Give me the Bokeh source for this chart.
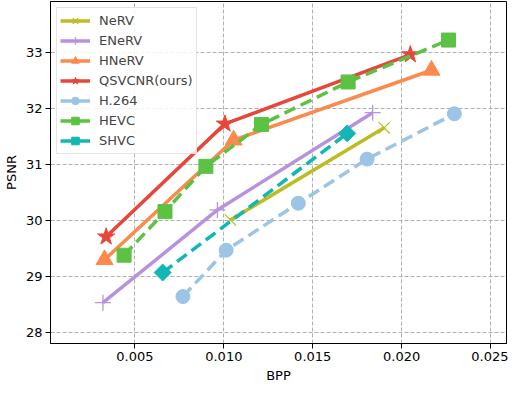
import numpy as np
from bokeh.plotting import figure
from bokeh.models import FixedTicker, NumeralTickFormatter, Range1d
from bokeh.embed import file_html
from bokeh.resources import INLINE

series_names = ["NeRV", "ENeRV", "HNeRV", "QSVCNR(ours)", "H.264", "HEVC", "SHVC"]

nerv_bpp = [0.01037, 0.01902]
nerv_psnr = [30.01, 31.66]

enerv_bpp = [0.00320, 0.00964, 0.01837]
enerv_psnr = [28.53, 30.19, 31.93]

hnerv_bpp = [0.00329, 0.01055, 0.02168]
hnerv_psnr = [29.30, 31.44, 32.69]

qsvcnr_bpp = [0.00338, 0.01006, 0.02049]
qsvcnr_psnr = [29.71, 31.73, 32.97]

h264_bpp = [0.00770, 0.01013, 0.01419, 0.01806, 0.02297]
h264_psnr = [28.64, 29.47, 30.31, 31.10, 31.91]

hevc_bpp = [0.00439, 0.00669, 0.00899, 0.01212, 0.01699, 0.02264]
hevc_psnr = [29.38, 30.16, 30.97, 31.72, 32.48, 33.23]

shvc_bpp = [0.00656, 0.01694]
shvc_psnr = [29.07, 31.56]

x_ticks = [0.005, 0.010, 0.015, 0.020, 0.025]
y_ticks = [28, 29, 30, 31, 32, 33]

p = figure(frame_width=456, frame_height=342, output_backend="svg", toolbar_location=None,
           x_range=Range1d(0.00025, 0.0259), y_range=Range1d(27.8, 33.92),
           min_border_left=0, min_border_right=2, min_border_top=1, min_border_bottom=0)

styles = [
    (nerv_bpp, nerv_psnr, "#bcbd22", "solid", "x", 16, "NeRV"),
    (enerv_bpp, enerv_psnr, "#b692df", "solid", "cross", 16, "ENeRV"),
    (hnerv_bpp, hnerv_psnr, "#fb8a4c", "solid", "triangle", 17, "HNeRV"),
    (qsvcnr_bpp, qsvcnr_psnr, "#e8463a", "solid", "star", 18, "QSVCNR(ours)"),
    (h264_bpp, h264_psnr, "#9bc4e5", "12 6", "circle", 14, "H.264"),
    (hevc_bpp, hevc_psnr, "#5bc244", "12 6", "square", 14, "HEVC"),
    (shvc_bpp, shvc_psnr, "#12b7b5", "12 6", "diamond", 14, "SHVC"),
]

for xs, ys, col, dash, mk, sz, lab in styles:
    p.line(xs, ys, line_color=col, line_width=3.5, line_dash=dash, legend_label=lab)
    if mk == "diamond":
        p.scatter(xs, ys, marker="square", angle=np.pi / 4, size=12, fill_color=col,
                  line_color=col, legend_label=lab)
    elif mk in ("x", "cross"):
        p.scatter(xs, ys, marker=mk, size=sz, line_color=col, line_width=1.3, legend_label=lab)
    else:
        p.scatter(xs, ys, marker=mk, size=sz, fill_color=col, line_color=col, legend_label=lab)

p.xaxis.ticker = FixedTicker(ticks=x_ticks)
p.yaxis.ticker = FixedTicker(ticks=y_ticks)
p.xaxis.formatter = NumeralTickFormatter(format="0.000")
p.xaxis.axis_label = "BPP"
p.yaxis.axis_label = "PSNR"

for ax in (p.xaxis[0], p.yaxis[0]):
    ax.axis_label_text_font = "DejaVu Sans"
    ax.axis_label_text_font_size = "13px"
    ax.axis_label_text_font_style = "normal"
    ax.axis_label_text_color = "black"
    ax.axis_label_standoff = 4
    ax.major_label_text_font = "DejaVu Sans"
    ax.major_label_text_font_size = "13px"
    ax.major_label_text_color = "black"
    ax.major_label_standoff = 3
    ax.minor_tick_line_color = None
    ax.major_tick_out = 5
    ax.major_tick_in = 0
    ax.axis_line_color = "black"
    ax.major_tick_line_color = "black"

p.xgrid.grid_line_color = "#b0b0b0"
p.ygrid.grid_line_color = "#b0b0b0"
p.xgrid.grid_line_dash = "4 2"
p.ygrid.grid_line_dash = "4 2"
p.outline_line_color = "black"
p.outline_line_width = 1

lg = p.legend[0]
lg.location = "top_left"
lg.label_text_font = "DejaVu Sans"
lg.label_text_font_size = "13px"
lg.label_height = 19
lg.glyph_height = 19
lg.glyph_width = 30
lg.label_standoff = 9
lg.spacing = 1
lg.padding = 3
lg.margin = 6
lg.border_line_color = "#cccccc"
lg.border_line_width = 1
lg.background_fill_alpha = 0.85

open("out.html", "w").write(file_html(p, INLINE))
